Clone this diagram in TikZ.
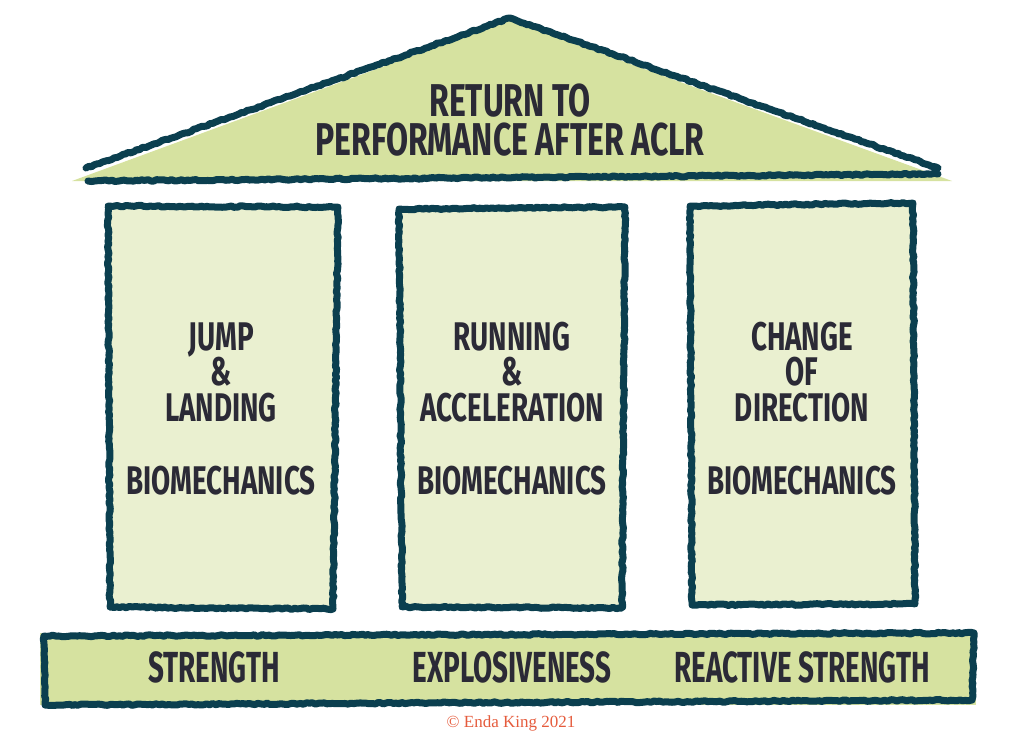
\documentclass[tikz,border=0pt]{standalone}
\usepackage{fontspec}
\setmainfont{Liberation Serif}
\newfontfamily\condfont[FakeStretch=0.64]{Fira Sans}
\newfontfamily\widefont[FakeStretch=0.695]{Fira Sans}
\usetikzlibrary{decorations.pathmorphing}
\definecolor{stroke}{HTML}{0B3F4F}
\definecolor{roofcol}{HTML}{D6E2A0}
\definecolor{pillarcol}{HTML}{EAF0D0}
\definecolor{txt}{HTML}{2B2A36}
\definecolor{copyc}{HTML}{E55B3C}
\tikzset{
  sketch/.style={draw=stroke, line width=7pt, line join=round, line cap=round,
    decorate, decoration={random steps, segment length=3pt, amplitude=0.8pt}},
  rooftext/.style={text=txt, font=\widefont\bfseries\fontsize{46}{40}\selectfont, inner sep=0pt, text height=31pt, text depth=0pt},
  pillartext/.style={text=txt, font=\widefont\bfseries\fontsize{40}{35.5}\selectfont, inner sep=0pt, text height=27pt, text depth=0pt},
  basetext/.style={text=txt, font=\condfont\bfseries\fontsize{43.5}{40}\selectfont, inner sep=0pt, text height=29pt, text depth=0pt},
}
\begin{document}
\begin{tikzpicture}[x=1pt,y=-1pt]
\useasboundingbox (0,0) rectangle (1024,739);
% roof
\fill[roofcol] (72,181) -- (510,20) -- (952,181) -- cycle;
\draw[sketch] (86,168) -- (510,18) -- (938,168);
\draw[sketch] (88,181) -- (938,174);
\node[rooftext] (roof1) at (510,101) {RETURN TO};
\node[rooftext] (roof2) at (510,140) {PERFORMANCE AFTER ACLR};
% pillars
\fill[pillarcol] (108,206) rectangle (335,609);
\draw[sketch] (108,206) -- (338,207) -- (333,609) -- (110,607) -- cycle;
\fill[pillarcol] (399,208) rectangle (624,608);
\draw[sketch] (399,209) -- (625,207) -- (622,608) -- (402,607) -- cycle;
\fill[pillarcol] (690,204) rectangle (914,606);
\draw[sketch] (690,206) -- (913,203) -- (915,604) -- (692,605) -- cycle;
\node[pillartext] (p1a) at (221,337) {JUMP};
\node[pillartext] (p1b) at (221,372) {\&};
\node[pillartext] (p1c) at (221,408) {LANDING};
\node[pillartext] (p1d) at (221,481) {BIOMECHANICS};
\node[pillartext] (p2a) at (512,337) {RUNNING};
\node[pillartext] (p2b) at (512,372) {\&};
\node[pillartext] (p2c) at (512,408) {ACCELERATION};
\node[pillartext] (p2d) at (512,481) {BIOMECHANICS};
\node[pillartext] (p3a) at (802,337) {CHANGE};
\node[pillartext] (p3b) at (802,372) {OF};
\node[pillartext] (p3c) at (802,408) {DIRECTION};
\node[pillartext] (p3d) at (802,481) {BIOMECHANICS};
% base
\fill[roofcol] (40,633) rectangle (976,705);
\draw[sketch] (44,636) -- (974,633) -- (972,700) -- (45,705) -- cycle;
\node[basetext] (b1) at (214,668) {STRENGTH};
\node[basetext] (b2) at (512,668) {EXPLOSIVENESS};
\node[basetext] (b3) at (802,668) {REACTIVE STRENGTH};
\node[text=copyc, font=\fontsize{17}{19}\selectfont, inner sep=0pt] (copy) at (511,723) {© Enda King 2021};
\end{tikzpicture}
\end{document}
